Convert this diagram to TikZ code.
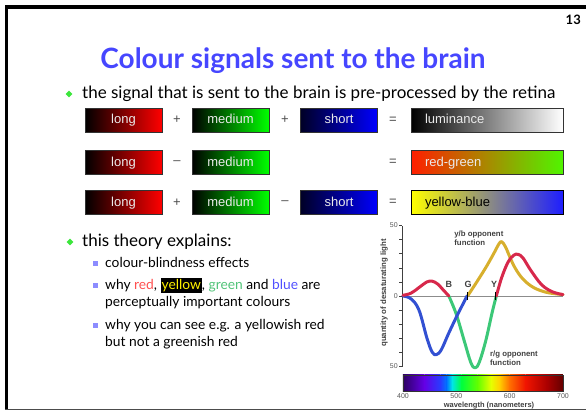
\documentclass[tikz,border=0pt]{standalone}
\usepackage{fontspec}
\setmainfont{Lato}
\newfontfamily\arialfont{Liberation Sans}
\usetikzlibrary{positioning, shapes.geometric}
\definecolor{titleblue}{RGB}{70,70,255}
\definecolor{bulgreen}{RGB}{60,230,60}
\definecolor{sqblue}{RGB}{140,140,255}
\definecolor{txtred}{RGB}{255,80,80}
\definecolor{txtgreen}{RGB}{80,195,120}
\definecolor{txtblue}{RGB}{80,80,255}
\definecolor{crvred}{RGB}{215,40,75}
\definecolor{crvgreen}{RGB}{60,200,120}
\definecolor{crvblue}{RGB}{50,80,210}
\definecolor{crvyellow}{RGB}{215,175,45}
\definecolor{rgleft}{RGB}{255,30,0}
\definecolor{rgmid}{RGB}{185,185,0}
\definecolor{rgright}{RGB}{80,245,0}
\definecolor{ybmid}{RGB}{200,200,215}
\definecolor{ybright}{RGB}{30,30,255}
% spectrum stops
\definecolor{sp400}{RGB}{45,0,100}
\definecolor{sp440}{RGB}{100,0,230}
\definecolor{sp470}{RGB}{40,60,255}
\definecolor{sp482}{RGB}{0,120,255}
\definecolor{sp492}{RGB}{0,230,230}
\definecolor{sp510}{RGB}{0,255,60}
\definecolor{sp540}{RGB}{100,255,0}
\definecolor{sp565}{RGB}{230,255,0}
\definecolor{sp580}{RGB}{255,210,0}
\definecolor{sp600}{RGB}{255,110,0}
\definecolor{sp630}{RGB}{240,20,0}
\definecolor{sp670}{RGB}{170,0,0}
\definecolor{sp700}{RGB}{100,0,0}
\tikzset{
  sig/.style={draw=black!80, minimum width=77pt, minimum height=24pt, inner sep=0pt, text height=9.5pt, text depth=2.5pt, font=\arialfont\fontsize{13}{15}\selectfont, text=white!92!black},
  res/.style={sig, minimum width=152pt, text width=124pt, align=left},
  opr/.style={font=\arialfont\fontsize{13}{15}\selectfont, text=black!70},
  bul/.style={diamond, fill=bulgreen, inner sep=0pt, minimum size=7pt},
  sqbul/.style={fill=sqblue, inner sep=0pt, minimum size=5pt},
  main/.style={font=\fontsize{17}{20}\selectfont, anchor=base west, inner sep=0pt},
  sub/.style={font=\fontsize{13.8}{17}\selectfont, anchor=base west, inner sep=0pt},
  lbl/.style={font=\arialfont\bfseries\fontsize{7.8}{9}\selectfont, text=black!75, inner sep=0pt},
  axl/.style={font=\arialfont\fontsize{7}{8}\selectfont, text=black!65, inner sep=0pt},
  crv/.style={line width=3pt, line cap=round, line join=round},
}
\begin{document}
\begin{tikzpicture}[x=1pt, y=-1pt]
  \useasboundingbox (0,0) rectangle (586,410);
  % slide frame
  \draw[line width=4pt] (5,7) -- (586,7);
  \draw[line width=2.5pt] (6.25,5) -- (6.25,410);
  \draw[black!70, line width=1.5pt] (5,409.5) -- (586,409.5);
  \node[font=\bfseries\fontsize{13}{15}\selectfont, anchor=base east, inner sep=0pt] (pgnum) at (581,24) {13};
  \node[font=\bfseries\fontsize{28}{32}\selectfont, text=titleblue, anchor=base] (title) at (293,68) {Colour signals sent to the brain};
  % first bullet
  \node[bul] (b1) at (69,94) {};
  \node[main] (t1) at (82,98.5) {the signal that is sent to the brain is pre-processed by the retina};
  % row 1
  \node[sig, left color=black, middle color=red!80!black, right color=red] (long1) at (123.5,120) {long};
  \node[opr] (p11) at (177,120) {+};
  \node[sig, left color=black, middle color=green!70!black, right color=green] (med1) at (230.5,120) {medium};
  \node[opr] (p12) at (285,120) {+};
  \node[sig, left color=blue!15!black, middle color=blue!70!black, right color=blue] (short1) at (339,120) {short};
  \node[opr] (eq1) at (393,120) {=};
  \node[res, left color=black, middle color=black!30, right color=white] (lum) at (487,120) {luminance};
  % row 2
  \node[sig, left color=black, middle color=red!80!black, right color=red] (long2) at (123.5,162.5) {long};
  \node[opr] (m21) at (177,162.5) {\textendash};
  \node[sig, left color=black, middle color=green!70!black, right color=green] (med2) at (230.5,162.5) {medium};
  \node[opr] (eq2) at (393,162.5) {=};
  \node[res, left color=rgleft, middle color=rgmid, right color=rgright] (rg) at (487,162.5) {red-green};
  % row 3
  \node[sig, left color=black, middle color=red!80!black, right color=red] (long3) at (123.5,202.5) {long};
  \node[opr] (p31) at (177,202.5) {+};
  \node[sig, left color=black, middle color=green!70!black, right color=green] (med3) at (230.5,202.5) {medium};
  \node[opr] (m32) at (285,202.5) {\textendash};
  \node[sig, left color=blue!15!black, middle color=blue!70!black, right color=blue] (short3) at (339,202.5) {short};
  \node[opr] (eq3) at (393,202.5) {=};
  \node[res, draw=black, text=black, left color=yellow, middle color=ybmid, right color=ybright] (yb) at (487,202.5) {yellow-blue};
  % second bullet
  \node[bul] (b2) at (70,242) {};
  \node[main] (t2) at (82,246.5) {this theory explains:};
  \node[sqbul] (s1) at (95,263) {};
  \node[sub] (u1) at (105,267.5) {colour-blindness effects};
  \node[sqbul] (s2) at (95,285) {};
  \node[sub] (u2) at (105,289.5) {why \textcolor{txtred}{red}, {\fboxsep=1pt\colorbox{black}{\textcolor{yellow}{yellow}}}, \textcolor{txtgreen}{green} and \textcolor{txtblue}{blue} are};
  \node[sub] (u2b) at (105,306.5) {perceptually important colours};
  \node[sqbul] (s3) at (95,325) {};
  \node[sub] (u3) at (105,329.5) {why you can see e.g. a yellowish red};
  \node[sub] (u3b) at (105,346.5) {but not a greenish red};
  % opponent function chart
  \node[lbl, rotate=90] (ylab) at (384,293) {quantity of desaturating light};
  \node[lbl, font=\arialfont\bfseries\fontsize{7.5}{9}\selectfont] (xlab) at (489,405.5) {wavelength (nanometers)};
  \begin{scope}[shift={(189.67,296)}, x=0.5333pt, y=1.41pt]
    \draw[black!45, line width=0.6pt] (400,0) -- (700,0);
    \draw[black!75, line width=0.8pt] (398,-50) -- (398,50);
    \foreach \v in {-50,-40,...,50}
      \draw[black!75, line width=0.6pt] (398,\v) -- ++(-3pt,0);
    \node[axl, left=4pt] (ytop) at (398,50) {50};
    \node[axl, left=4pt] (yzero) at (398,0) {0};
    \node[axl, left=4pt] (ybot) at (398,-50) {50};
    \foreach \a/\b in {400/440, 440/470, 470/482, 482/492, 492/510, 510/540, 540/565, 565/580, 580/600, 600/630, 630/670, 670/700}
      \shade[left color=sp\a, right color=sp\b] (\a,-56) rectangle (\b,-68);
    \draw[black!80, line width=0.8pt] (400,-56) rectangle (700,-68);
    \foreach \w in {400,500,600,700}
      \node[axl] (x\w) at (\w,-70.8) {\w};
    % curves
    \draw[crv, crvyellow] plot[smooth, tension=0.6] coordinates {(521,0) (535,8) (555,20) (570,30) (580,37) (585,38.5) (592,35) (600,28) (610,20) (625,12) (645,6) (670,2.5) (700,1)};
    \draw[crv, crvgreen] plot[smooth, tension=0.6] coordinates {(486,0) (500,-13) (515,-32) (527,-47) (535,-51) (543,-47) (555,-32) (567,-12) (575,0)};
    \draw[crv, crvblue] plot[smooth, tension=0.6] coordinates {(400,0) (415,-2) (430,-10) (445,-30) (455,-40) (463,-41.5) (472,-38) (485,-27) (500,-15) (512,-6) (520,0)};
    \draw[crv, crvred] plot[smooth, tension=0.6] coordinates {(400,0.5) (415,2) (430,6) (445,10) (455,10.5) (465,8.5) (475,4.5) (486,0)};
    \draw[crv, crvred] plot[smooth, tension=0.6] coordinates {(575,0) (585,13) (597,24) (608,29) (616,29.5) (625,27) (640,18) (660,8) (680,3) (700,1)};
    \draw[line width=0.8pt] (520,-3) -- (520,3);
    \draw[line width=0.8pt] (574,-3) -- (574,3);
    \node[lbl, font=\arialfont\bfseries\fontsize{9}{10}\selectfont] (lb) at (486,8.5) {B};
    \node[lbl, font=\arialfont\bfseries\fontsize{9}{10}\selectfont] (lg) at (522,8.5) {G};
    \node[lbl, font=\arialfont\bfseries\fontsize{9}{10}\selectfont] (ly) at (571,8.5) {Y};
    \node[lbl, align=left, anchor=north west] (ybf) at (496,46) {y/b opponent\\function};
    \node[lbl, align=left, anchor=north west] (rgf) at (563,-39) {r/g opponent\\function};
  \end{scope}
\end{tikzpicture}
\end{document}
